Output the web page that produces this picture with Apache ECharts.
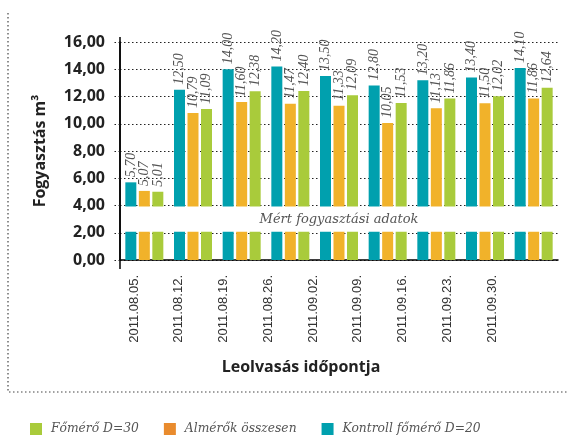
<!DOCTYPE html>
<html>
<head>
<meta charset="utf-8">
<script src="https://cdn.jsdelivr.net/npm/echarts@6/dist/echarts.min.js"></script>
<style>html,body{margin:0;padding:0;background:#fff}#c{width:569px;height:442px}</style>
</head>
<body>
<div id="c"></div>
<script>
const categories = ['2011.08.05.', '2011.08.12.', '2011.08.19.', '2011.08.26.', '2011.09.02.', '2011.09.09.', '2011.09.16.', '2011.09.23.', '2011.09.30.'];
const kontroll = [5.70, 12.50, 14.00, 14.20, 13.50, 12.80, 13.20, 13.40, 14.10];
const almerok = [5.07, 10.79, 11.60, 11.47, 11.33, 10.05, 11.13, 11.50, 11.86];
const fomero = [5.01, 11.09, 12.38, 12.40, 12.09, 11.53, 11.86, 12.02, 12.64];
const seriesNames = ['Kontroll főmérő D=20', 'Almérők összesen', 'Főmérő D=30'];
const legendOrder = ['Főmérő D=30', 'Almérők összesen', 'Kontroll főmérő D=20'];
const breakRange = [2, 4];
const breakLabel = 'Mért fogyasztási adatok';
const yAxisName = 'Fogyasztás m³';
const xAxisName = 'Leolvasás időpontja';

const colors = ['#00A0AE', '#F1B22A', '#A9CB3B'];
const serifIt = '"DejaVu Serif", serif';
const fmt = v => v.toFixed(2).replace('.', ',');
const BAR_W = 11, BAR_GAP = 2.5;

const chart = echarts.init(document.getElementById('c'), null, {renderer: 'canvas'});

function barSeries(name, data, color) {
  return {
    name, type: 'bar', data, xAxisIndex: 0, yAxisIndex: 0,
    barWidth: BAR_W, barGap: (BAR_GAP / BAR_W * 100) + '%',
    itemStyle: {color}, z: 2
  };
}

// label data built from the value arrays: [categoryIndex, value, seriesIndex]
const labelData = [];
[kontroll, almerok, fomero].forEach((arr, s) => arr.forEach((v, i) => labelData.push([i, v, s])));

const option = {
  animation: false,
  backgroundColor: '#fff',
  grid: [
    {left: 120, right: 11, top: 42, bottom: 182},
    {left: 111.6, right: 54.6, top: 42, bottom: 182}
  ],
  xAxis: [
    {type: 'category', gridIndex: 0, data: categories,
     axisLine: {show: true, lineStyle: {color: '#000', width: 1.5}},
     axisTick: {show: false}, axisLabel: {show: false}, splitLine: {show: false}},
    {type: 'category', gridIndex: 1, data: categories,
     axisLine: {show: false}, axisTick: {show: false}, splitLine: {show: false},
     axisLabel: {show: true, rotate: 90, margin: 15, color: '#333', fontSize: 13, fontFamily: 'Liberation Sans, sans-serif'}}
  ],
  yAxis: [
    {type: 'value', gridIndex: 0, min: 0, max: 16, interval: 2,
     name: yAxisName, nameLocation: 'middle', nameGap: 72, nameRotate: 90,
     nameTextStyle: {fontSize: 16, fontWeight: 'bold', color: '#222', fontFamily: '"Open Sans", sans-serif'},
     axisLine: {show: true, lineStyle: {color: '#000', width: 1.5}},
     axisTick: {show: true, length: 7, lineStyle: {color: '#222', type: [1.5, 2.5], width: 1.2}},
     splitLine: {show: true, lineStyle: {color: '#222', type: [1.5, 2.5], width: 1.2}},
     axisLabel: {margin: 15, formatter: v => fmt(v), color: '#222', fontSize: 16, fontWeight: 'bold', fontFamily: '"Open Sans", sans-serif'}},
    {type: 'value', gridIndex: 1, min: 0, max: 16, show: false}
  ],
  legend: {
    left: 25, top: 418, itemWidth: 12, itemHeight: 12, itemGap: 25, icon: 'rect',
    textStyle: {color: '#555', fontFamily: serifIt, fontStyle: 'italic', fontSize: 12.3, padding: [0, 0, 0, 4]},
    data: [
      {name: legendOrder[0]},
      {name: legendOrder[1], itemStyle: {color: '#E98B2D'}},
      {name: legendOrder[2]}
    ]
  },
  series: [
    barSeries(seriesNames[0], kontroll, colors[0]),
    barSeries(seriesNames[1], almerok, colors[1]),
    barSeries(seriesNames[2], fomero, colors[2]),
    {
      type: 'custom', name: 'labels', xAxisIndex: 0, yAxisIndex: 0, z: 5, silent: true,
      data: labelData,
      renderItem: function (params, api) {
        const s = api.value(2);
        const p = api.coord([api.value(0), api.value(1)]);
        return {
          type: 'text', x: p[0] + (s - 1) * (BAR_W + BAR_GAP), y: p[1] - 5, rotation: Math.PI / 2,
          style: {text: fmt(api.value(1)), fill: '#555', font: 'italic 14px "Liberation Serif", serif', align: 'left', verticalAlign: 'middle'}
        };
      }
    },
    {
      type: 'custom', name: 'break', xAxisIndex: 0, yAxisIndex: 0, z: 10, silent: true,
      data: [[0, breakRange[0], breakRange[1]]],
      renderItem: function (params, api) {
        const cs = params.coordSys;
        const yLow = api.coord([0, api.value(1)])[1];
        const yHigh = api.coord([0, api.value(2)])[1];
        return {
          type: 'group',
          children: [
            {type: 'rect', shape: {x: cs.x + 1, y: yHigh + 1, width: cs.width + 2, height: yLow - yHigh - 2},
             style: {fill: '#fff'}},
            {type: 'text', x: cs.x + cs.width / 2, y: (yLow + yHigh) / 2,
             style: {text: breakLabel, fill: '#555', font: 'italic 13px "DejaVu Serif", serif', align: 'center', verticalAlign: 'middle'}}
          ]
        };
      }
    }
  ],
  graphic: [
    {type: 'polyline', shape: {points: [[8, 13], [8, 392], [569, 392]]},
     style: {stroke: '#444', lineWidth: 1.2, lineDash: [1.5, 2.5], fill: null}},
    {type: 'line', shape: {x1: 120, y1: 37, x2: 120, y2: 269}, style: {stroke: '#000', lineWidth: 1.5}},
    {type: 'text', x: 301, y: 367,
     style: {text: xAxisName, font: 'bold 16px "Open Sans", sans-serif', fill: '#222', align: 'center', verticalAlign: 'middle'}}
  ]
};
chart.setOption(option);
</script>
</body>
</html>
